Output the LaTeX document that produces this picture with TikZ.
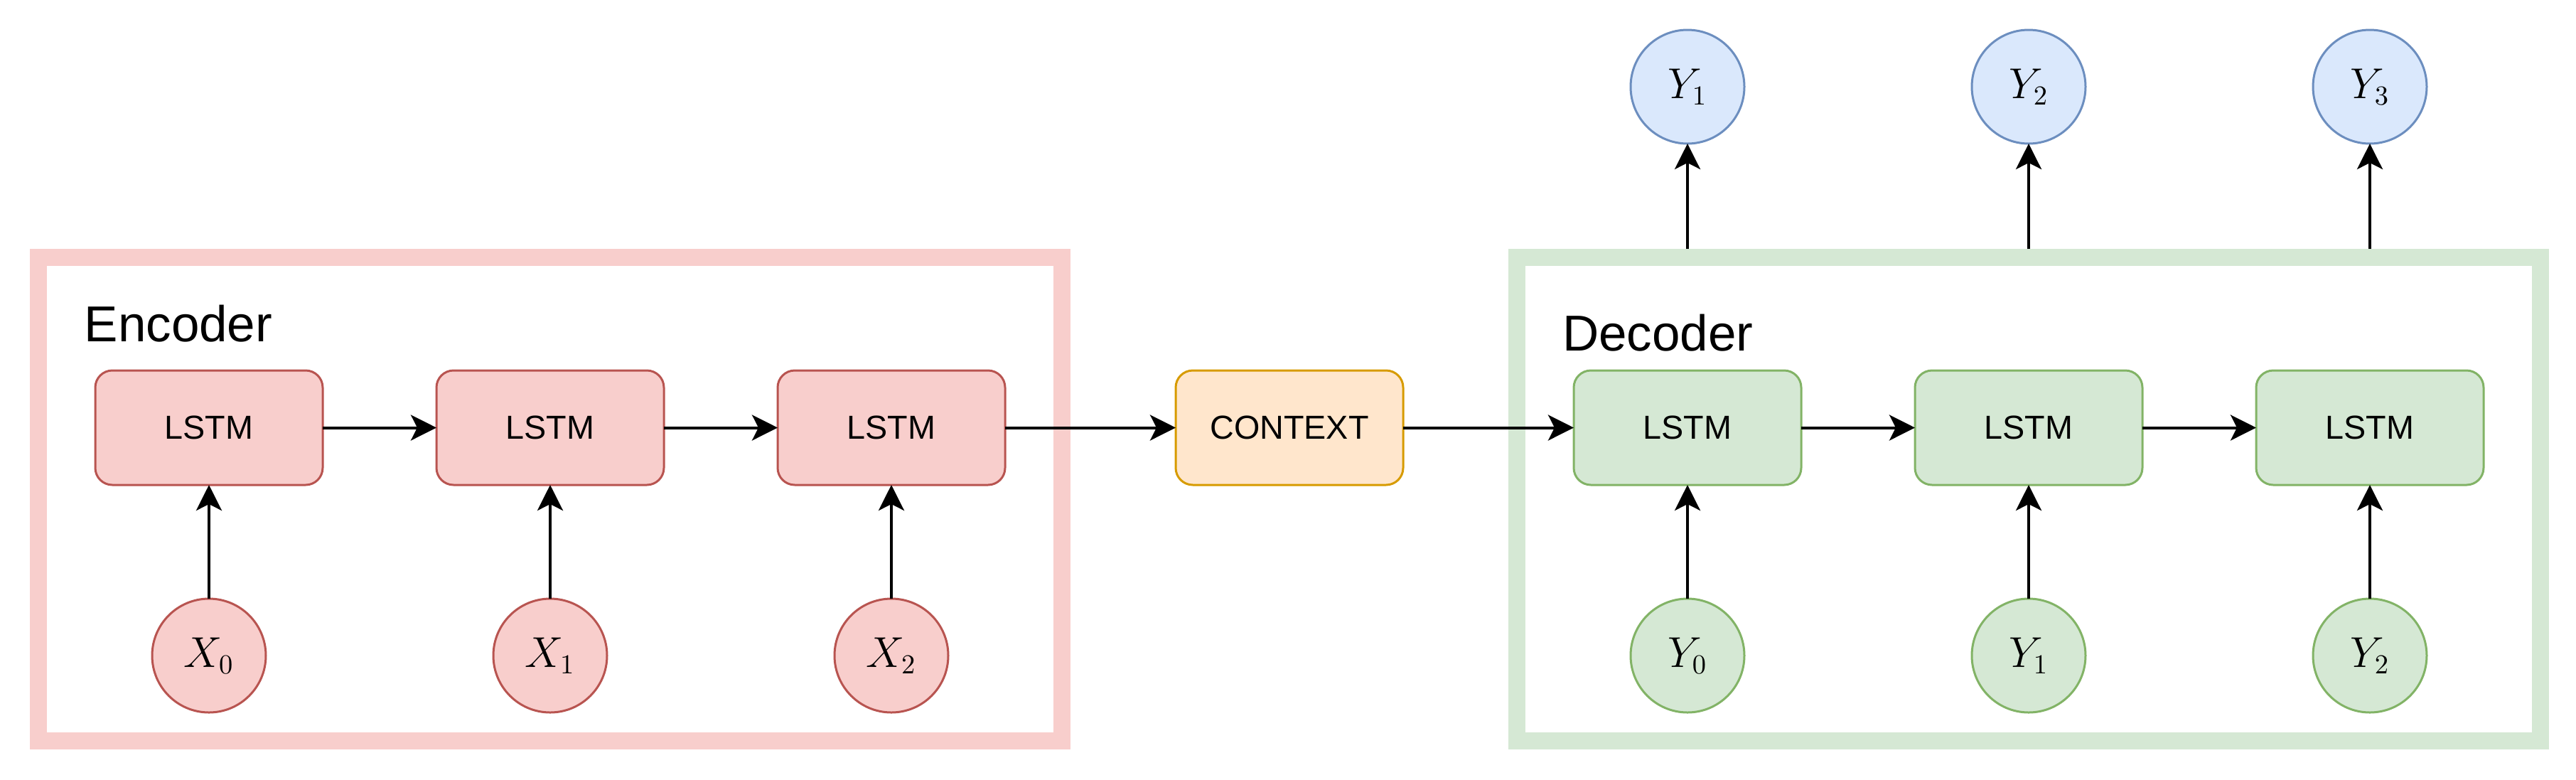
\documentclass[tikz,border=0pt]{standalone}
\usepackage{fontspec}
\setmainfont{Liberation Sans}
\usepackage{tikz}
\usetikzlibrary{arrows.meta, positioning, calc, backgrounds}

\definecolor{encfill}{HTML}{F8CECC}
\definecolor{encdraw}{HTML}{B85450}
\definecolor{decfill}{HTML}{D5E8D4}
\definecolor{decdraw}{HTML}{82B366}
\definecolor{outfill}{HTML}{DAE8FC}
\definecolor{outdraw}{HTML}{6C8EBF}
\definecolor{ctxfill}{HTML}{FFE6CC}
\definecolor{ctxdraw}{HTML}{D79B00}

\begin{document}
\begin{tikzpicture}[
    node distance=1.6cm,
    cell/.style={draw, rectangle, rounded corners=0.24cm, minimum width=3.2cm, minimum height=1.61cm, inner sep=0, outer sep=0, line width=0.03cm, font=\fontsize{13.3}{16}\selectfont},
    enccell/.style={cell, draw=encdraw, fill=encfill},
    deccell/.style={cell, draw=decdraw, fill=decfill},
    ctxcell/.style={cell, draw=ctxdraw, fill=ctxfill},
    unit/.style={draw, circle, minimum size=1.6cm, inner sep=0, outer sep=0, line width=0.03cm, font=\fontsize{16}{19}\selectfont},
    inunit/.style={unit, draw=encdraw, fill=encfill},
    decunit/.style={unit, draw=decdraw, fill=decfill},
    outunit/.style={unit, draw=outdraw, fill=outfill},
    frame/.style={line width=0.24cm},
    title/.style={anchor=base west, inner sep=0, font=\fontsize{20.2}{24}\selectfont},
    arrow/.style={-{Stealth[length=0.36cm, width=0.36cm, inset=0.09cm]}, line width=0.04cm}
]
\useasboundingbox (0,0) rectangle (36.24,-10.96);

% encoder
\node[enccell] (enc1) at (2.94,-6.015) {LSTM};
\node[enccell, right=of enc1] (enc2) {LSTM};
\node[enccell, right=of enc2] (enc3) {LSTM};
\node[inunit, below=of enc1] (x0) {$X_0$};
\node[inunit, below=of enc2] (x1) {$X_1$};
\node[inunit, below=of enc3] (x2) {$X_2$};
\node[title] (enctitle) at ($(enc1.north west)+(-0.16,0.41)$) {Encoder};

% context
\node[ctxcell, right=2.4cm of enc3] (ctx) {CONTEXT};

% decoder
\node[deccell, right=2.4cm of ctx] (dec1) {LSTM};
\node[deccell, right=of dec1] (dec2) {LSTM};
\node[deccell, right=of dec2] (dec3) {LSTM};
\node[decunit, below=of dec1] (y0) {$Y_0$};
\node[decunit, below=of dec2] (y1) {$Y_1$};
\node[decunit, below=of dec3] (y2) {$Y_2$};
\node[outunit, above=3.19cm of dec1] (out1) {$Y_1$};
\node[outunit, above=3.19cm of dec2] (out2) {$Y_2$};
\node[outunit, above=3.19cm of dec3] (out3) {$Y_3$};
\node[title] (dectitle) at ($(dec1.north west)+(-0.165,0.28)$) {Decoder};

% frames
\coordinate (encTL) at ($(enc1.north west)+(-0.8,1.59)$);
\coordinate (encBR) at ($(enc3.east |- x2.south)+(0.8,-0.4)$);
\coordinate (decTL) at ($(dec1.north west)+(-0.8,1.59)$);
\coordinate (decBR) at ($(dec3.east |- y2.south)+(0.8,-0.4)$);
\coordinate (decrim) at ($(decTL)+(0,0.12)$);
\begin{scope}[on background layer]
\draw[frame, draw=encfill] (encTL) rectangle (encBR);
\draw[frame, draw=decfill] (decTL) rectangle (decBR);
\end{scope}

\draw[arrow] (enc1) -- (enc2);
\draw[arrow] (enc2) -- (enc3);
\draw[arrow] (enc3) -- (ctx);
\draw[arrow] (ctx) -- (dec1);
\draw[arrow] (dec1) -- (dec2);
\draw[arrow] (dec2) -- (dec3);
\draw[arrow] (x0) -- (enc1);
\draw[arrow] (x1) -- (enc2);
\draw[arrow] (x2) -- (enc3);
\draw[arrow] (y0) -- (dec1);
\draw[arrow] (y1) -- (dec2);
\draw[arrow] (y2) -- (dec3);
\draw[arrow] (dec1 |- decrim) -- (out1);
\draw[arrow] (dec2 |- decrim) -- (out2);
\draw[arrow] (dec3 |- decrim) -- (out3);
\end{tikzpicture}
\end{document}
